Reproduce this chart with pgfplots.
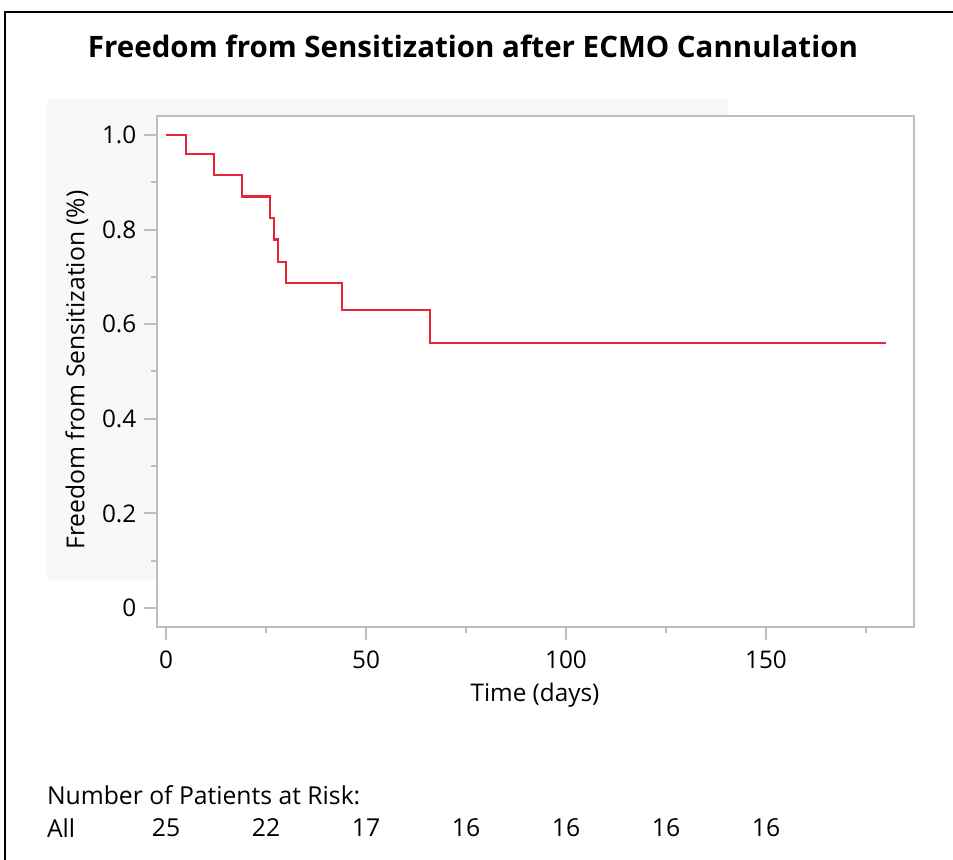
\documentclass[border=0pt]{standalone}
\usepackage{pgfplots}
\pgfplotsset{compat=1.18}
\usepackage{fontspec}
\setmainfont{Open Sans}
\definecolor{kmred}{RGB}{232,36,58}
\definecolor{axgray}{RGB}{190,190,190}
\definecolor{panel}{RGB}{248,248,248}
\begin{document}
\begin{tikzpicture}[x=0.5bp,y=0.5bp]
\path[use as bounding box] (0,0) rectangle (953,860);
\fill[panel] (47,761) rectangle (728,280);
\draw[line width=1.4bp] (5,0) -- (5,848) -- (953,848);
\node[font=\bfseries\fontsize{14.8}{18}\selectfont] at (473,814) {Freedom from Sensitization after ECMO Cannulation};
\coordinate (A) at (157,233);
\begin{axis}[
  at={(A)}, anchor=south west,
  scale only axis, width=378.5bp, height=255.5bp,
  xmin=-2.25, xmax=187, ymin=-0.04, ymax=1.04,
  axis background/.style={fill=white},
  axis line style={axgray, line width=1bp},
  every tick/.style={axgray, line width=1bp},
  tick align=outside,
  xtick={0,50,100,150}, minor xtick={25,75,125,175},
  ytick={0,0.2,0.4,0.6,0.8,1.0}, minor ytick={0.1,0.3,0.5,0.7,0.9},
  yticklabels={0,0.2,0.4,0.6,0.8,1.0},
  xtick pos=bottom, ytick pos=left,
  major tick length=6.3bp, minor tick length=2.8bp,
  /pgf/number format/assume math mode=true,
  tick label style={font=\fontsize{12.2}{14}\selectfont, black},
  xticklabel style={yshift=-2bp},
  yticklabel style={xshift=-0.5bp},
  clip=false,
]
\addplot[kmred, line width=1.1bp, const plot] coordinates {
(0,1.0) (5,0.96) (12,0.915) (19,0.870) (26,0.825) (27,0.779) (28,0.732) (30,0.687) (44,0.630) (66,0.560) (180,0.560)
};
\end{axis}
\node[font=\fontsize{12.4}{14}\selectfont, rotate=90] at (77,490) {Freedom from Sensitization (\%)};
\node[font=\fontsize{12.2}{14}\selectfont] at (535,165) {Time (days)};
\node[font=\fontsize{12.4}{14}\selectfont, anchor=west] at (40,65) {Number of Patients at Risk:};
\node[font=\fontsize{12.4}{14}\selectfont, anchor=west] at (40,32) {All};
\foreach \x/\n in {166/25,266/22,366/17,466/16,566/16,666/16,766/16}
  \node[font=\fontsize{12.4}{14}\selectfont] at (\x,32) {\n};
\end{tikzpicture}
\end{document}
